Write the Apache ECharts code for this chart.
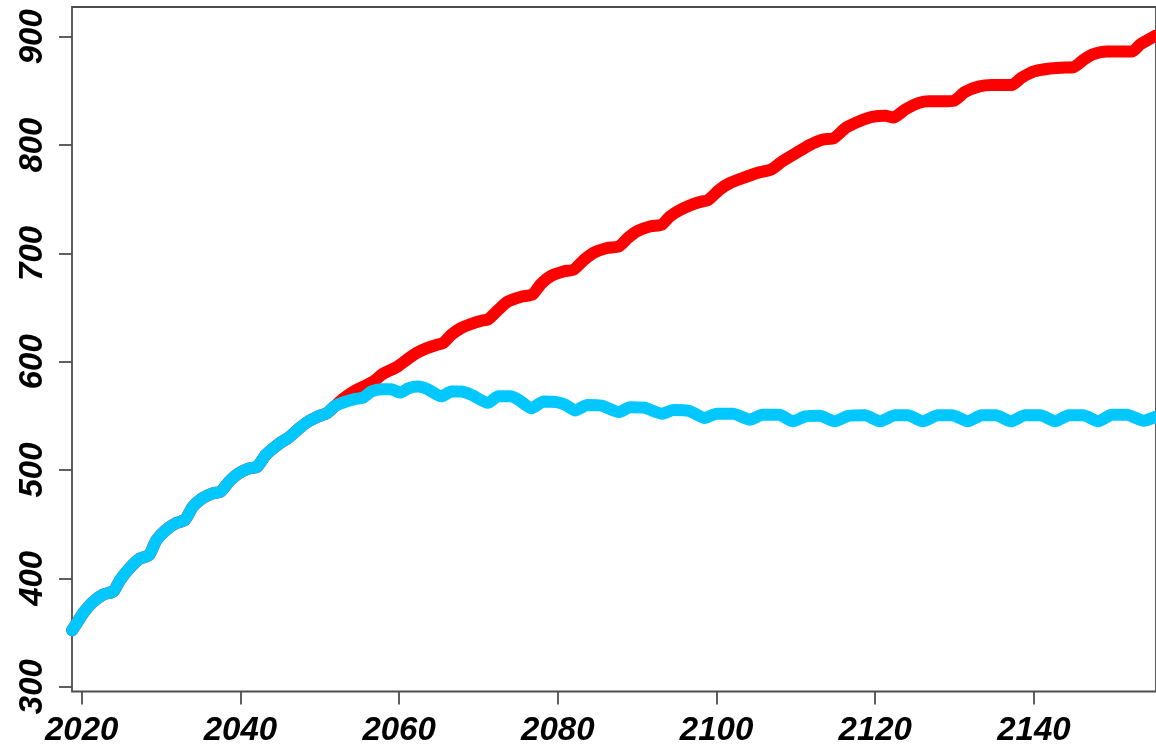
<!DOCTYPE html>
<html>
<head>
<meta charset="utf-8">
<script src="https://cdn.jsdelivr.net/npm/echarts@6/dist/echarts.min.js"></script>
<style>
html,body{margin:0;padding:0;background:#fff;}
#chart{width:1156px;height:749px;}
</style>
</head>
<body>
<div id="chart"></div>
<script>
// ---- data ----
var xTicks = [2020, 2040, 2060, 2080, 2100, 2120, 2140];
var yTicks = [300, 400, 500, 600, 700, 800, 900];

// shared early segment (both series overlap until ~2052)
var sharedYears = [2018.8, 2019.5, 2020.2, 2021.4, 2022.7, 2024.0, 2024.8, 2026.0, 2027.3, 2028.5,
  2029.4, 2030.6, 2031.9, 2033.0, 2034.0, 2035.2, 2036.5, 2037.5, 2038.6, 2039.8,
  2041.1, 2042.1, 2043.2, 2044.4, 2045.0, 2046.1, 2047.4, 2048.6, 2049.8, 2050.9, 2051.9];
var sharedValues = [352, 360, 368, 378, 385, 388, 398, 409, 418, 421.5,
  435, 444.5, 451, 454, 466, 474, 478.5, 480, 489.5, 497,
  501.5, 503, 514, 521.5, 525, 530, 538.5, 545, 549.5, 552.5, 559];

var cyanYears = [2053.2, 2054.4, 2055.5, 2056.5, 2057.8, 2059.0, 2060.1, 2061.2, 2062.4, 2063.6,
  2065.3, 2066.6, 2067.8, 2069.1, 2071.2, 2072.5, 2074.0, 2075.0, 2076.7, 2078.2,
  2080.0, 2081.0, 2082.2, 2083.7, 2085.5, 2087.7, 2089.1, 2090.9, 2093.1, 2094.6,
  2096.6, 2098.5, 2100.0, 2102.1, 2104.2, 2105.8, 2107.9, 2109.6, 2111.2, 2113.0,
  2114.9, 2116.6, 2118.7, 2120.6, 2122.5, 2124.1, 2126.0, 2127.9, 2129.7, 2131.7,
  2133.4, 2135.2, 2137.1, 2138.9, 2140.8, 2142.7, 2144.4, 2146.2, 2148.1, 2149.8,
  2151.7, 2153.8, 2155.3];
var cyanValues = [563, 565.5, 567, 572.5, 574.5, 574.5, 571.5, 575.5, 577, 574.5,
  568, 572.5, 572.5, 569.5, 562, 568, 568, 565, 557, 563.3,
  562.5, 560, 555, 560, 559.5, 553.5, 558, 557.5, 552, 555.5,
  554.5, 548, 552, 552, 546.5, 551, 551, 545, 549.5, 550,
  545, 550, 550.5, 545, 550.5, 550.5, 545, 550.5, 550.5, 545,
  550.5, 550.5, 545, 550.5, 550.5, 545, 550.5, 550.5, 545, 551,
  551, 545.5, 549];

var redYears = [2053.0, 2054.3, 2055.5, 2056.8, 2058.0, 2059.3, 2059.8, 2061.0, 2062.2, 2063.5,
  2064.7, 2065.5, 2066.6, 2067.8, 2069.1, 2070.5, 2071.2, 2072.5, 2073.7, 2075.4,
  2076.8, 2077.9, 2079.1, 2080.8, 2082.0, 2083.3, 2084.5, 2086.2, 2087.7, 2088.8,
  2090.0, 2091.7, 2093.1, 2094.1, 2095.4, 2096.9, 2098.2, 2098.9, 2100.4, 2101.7,
  2103.3, 2105.0, 2106.9, 2108.3, 2110.0, 2111.7, 2113.3, 2114.8, 2116.3, 2118.0,
  2119.6, 2121.3, 2122.3, 2123.8, 2125.5, 2126.8, 2128.5, 2129.9, 2131.3, 2133.0,
  2134.7, 2137.2, 2138.4, 2140.0, 2141.8, 2143.4, 2145.0, 2146.3, 2147.5, 2149.2,
  2152.4, 2153.4, 2155.3];
var redValues = [566, 572.5, 577, 582, 589, 593.5, 595.5, 602, 608, 612.5,
  615.5, 617, 625, 631, 635, 638, 639, 648, 655.5, 660,
  662, 672, 679, 683.5, 685, 694, 700.5, 705, 706.5, 714,
  720.5, 725, 726.5, 734, 740, 745, 748, 749, 759, 765,
  769.5, 774, 777.5, 785, 792.5, 800, 805, 806.5, 816, 822,
  826, 827, 825.5, 833, 839, 840.5, 840.5, 841, 849, 854,
  855.5, 855.5, 862, 868, 870.5, 871.5, 872, 879, 884, 886.5,
  886.5, 893, 901];

function pairs(xs, ys) {
  var out = [];
  for (var i = 0; i < xs.length; i++) out.push([xs[i], ys[i]]);
  return out;
}
var redData = pairs(sharedYears, sharedValues).concat(pairs(redYears, redValues));
var cyanData = pairs(sharedYears, sharedValues).concat(pairs(cyanYears, cyanValues));

var labelFont = {
  fontFamily: 'Liberation Sans',
  fontWeight: 'bold',
  fontStyle: 'italic',
  fontSize: 33,
  color: '#000'
};
var axisGray = '#4d4d4d';

var chart = echarts.init(document.getElementById('chart'), null, {renderer: 'canvas'});
chart.setOption({
  animation: false,
  backgroundColor: '#fff',
  grid: {
    show: true,
    left: 72,
    right: -6,
    top: 7,
    bottom: 57.5,
    borderColor: axisGray,
    borderWidth: 1.8,
    containLabel: false
  },
  xAxis: {
    type: 'value',
    min: 2018.78,
    max: 2155.38,
    splitLine: {show: false},
    axisLine: {show: false},
    axisTick: {show: true, inside: false, length: 13, customValues: xTicks,
      lineStyle: {color: axisGray, width: 1.8}},
    axisLabel: Object.assign({show: true, margin: 23, customValues: xTicks,
      formatter: function (v) { return String(v); }}, labelFont)
  },
  yAxis: {
    type: 'value',
    min: 295.5,
    max: 927.5,
    splitLine: {show: false},
    axisLine: {show: false},
    axisTick: {show: true, inside: false, length: 13, customValues: yTicks,
      lineStyle: {color: axisGray, width: 1.8}},
    axisLabel: Object.assign({show: true, margin: 23, rotate: 90, customValues: yTicks,
      formatter: function (v) { return String(v); }}, labelFont)
  },
  series: [
    {
      type: 'line',
      data: redData,
      showSymbol: false,
      smooth: 0.2,
      lineStyle: {color: '#FF0000', width: 12, cap: 'round', join: 'round'},
      z: 2
    },
    {
      type: 'line',
      data: cyanData,
      showSymbol: false,
      smooth: 0.2,
      lineStyle: {color: '#00C8FF', width: 12, cap: 'round', join: 'round'},
      z: 3
    }
  ]
});
</script>
</body>
</html>
